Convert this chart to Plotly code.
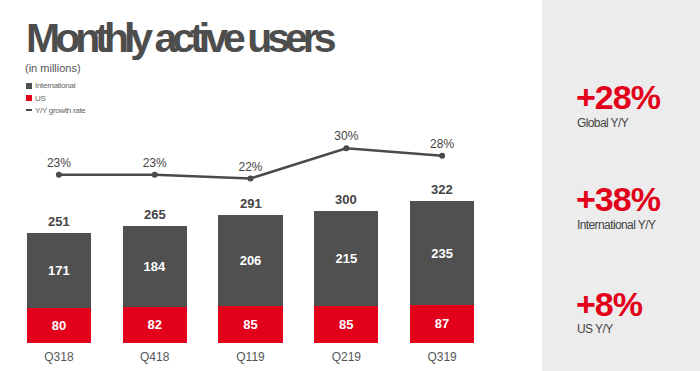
import plotly.graph_objects as go

quarters = ["Q318", "Q418", "Q119", "Q219", "Q319"]
us = [80, 82, 85, 85, 87]
international = [171, 184, 206, 215, 235]
totals = [251, 265, 291, 300, 322]
growth = [23, 23, 22, 30, 28]
growth_labels = ["23%", "23%", "22%", "30%", "28%"]
side_values = ["+28%", "+38%", "+8%"]
side_labels = ["Global Y/Y", "International Y/Y", "US Y/Y"]

RED = "#e2001a"
GRAY = "#505050"
DARK = "#444444"
FONT = "Liberation Sans, Arial, sans-serif"

L, T, B = 11, 130, 28
W, H = 700, 371
PW = 490 - L
PH = H - T - B


def px(x):
    return (x - L) / PW


def py(y):
    return (H - B - y) / PH


fig = go.Figure()
fig.add_trace(go.Bar(
    x=quarters, y=us, name="US", marker=dict(color=RED, line=dict(width=0)),
    text=[str(v) for v in us], textposition="inside", insidetextanchor="middle",
    textfont=dict(color="white", size=13, family=FONT, weight="bold"),
    showlegend=False,
))
fig.add_trace(go.Bar(
    x=quarters, y=international, name="International", marker=dict(color=GRAY, line=dict(width=0)),
    text=[str(v) for v in international], textposition="inside", insidetextanchor="middle",
    textfont=dict(color="white", size=13, family=FONT, weight="bold"),
    showlegend=False,
))
fig.add_trace(go.Scatter(
    x=quarters, y=growth, yaxis="y2", name="Y/Y growth rate",
    mode="lines+markers+text", text=growth_labels, textposition="top center",
    textfont=dict(color=DARK, size=12, family=FONT),
    line=dict(color="#4a4a4a", width=2.5), marker=dict(size=6, color="#4a4a4a"),
    showlegend=False, cliponaxis=False,
))

annotations = []
for q, t in zip(quarters, totals):
    annotations.append(dict(x=q, y=t, xref="x", yref="y", text=f"<b>{t}</b>",
                            showarrow=False, yanchor="bottom", yshift=2,
                            font=dict(color=DARK, size=13, family=FONT)))

# title and subtitle
annotations.append(dict(x=px(24), y=py(38), xref="paper", yref="paper", xanchor="left", yanchor="middle",
                        text="<span style='letter-spacing:-5px'><b>Monthly active users</b></span>",
                        showarrow=False,
                        font=dict(color="#4d4d4d", size=41, family=FONT)))
annotations.append(dict(x=px(23), y=py(68), xref="paper", yref="paper", xanchor="left", yanchor="middle",
                        text="(in millions)", showarrow=False,
                        font=dict(color="#555555", size=11, family=FONT)))

# manual legend
leg = [("International", 86, "sq", GRAY), ("US", 98, "sq", RED), ("Y/Y growth rate", 110, "ln", "#4a4a4a")]
shapes = []
for name, yy, kind, col in leg:
    annotations.append(dict(x=px(33), y=py(yy), xref="paper", yref="paper", xanchor="left", yanchor="middle",
                            text=f"<span style='letter-spacing:-0.3px'>{name}</span>", showarrow=False,
                            font=dict(color="#666666", size=8, family=FONT)))
    if kind == "sq":
        shapes.append(dict(type="rect", xref="paper", yref="paper", x0=px(26), x1=px(32),
                           y0=py(yy - 3), y1=py(yy + 3), fillcolor=col, line=dict(width=0)))
    else:
        shapes.append(dict(type="line", xref="paper", yref="paper", x0=px(26), x1=px(32),
                           y0=py(yy), y1=py(yy), line=dict(color=col, width=2)))

# right panel
shapes.append(dict(type="rect", xref="paper", yref="paper", x0=px(542), x1=px(705),
                   y0=py(375), y1=py(-5), fillcolor="#ececec", line=dict(width=0), layer="below"))
side_y = [(97, 123), (199, 225), (304, 329)]
for v, lab, (y1, y2) in zip(side_values, side_labels, side_y):
    annotations.append(dict(x=px(574), y=py(y1), xref="paper", yref="paper", xanchor="left", yanchor="middle",
                            text=f"<span style='letter-spacing:-1px'><b>{v}</b></span>", showarrow=False,
                            font=dict(color=RED, size=34, family=FONT)))
    annotations.append(dict(x=px(575), y=py(y2), xref="paper", yref="paper", xanchor="left", yanchor="middle",
                            text=f"<span style='letter-spacing:-0.6px'>{lab}</span>", showarrow=False,
                            font=dict(color="#444444", size=12, family=FONT)))

fig.update_layout(
    width=W, height=H, margin=dict(l=L, r=W - 490, t=T, b=B, autoexpand=False),
    barmode="stack", bargap=0.33,
    paper_bgcolor="white", plot_bgcolor="rgba(0,0,0,0)",
    xaxis=dict(showgrid=False, zeroline=False, showline=False, ticks="", ticklabelstandoff=5,
               tickfont=dict(color="#555555", size=12, family=FONT), range=[-0.5, 4.5]),
    yaxis=dict(visible=False, range=[0, PH / 0.44]),
    yaxis2=dict(visible=False, overlaying="y", range=[-21.4, 34.8]),
    annotations=annotations, shapes=shapes,
    font=dict(family=FONT),
)

fig.write_html("out.html", config={"displayModeBar": False},
               post_script="document.body.style.margin='0';")
